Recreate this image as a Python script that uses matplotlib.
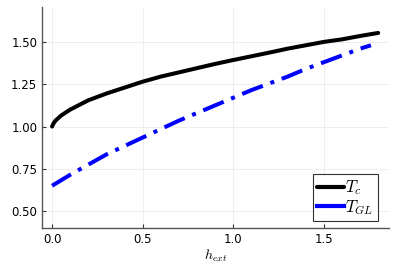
import numpy as np
import matplotlib
matplotlib.use("Agg")
import matplotlib.pyplot as plt

plt.rcParams['mathtext.fontset'] = 'cm'

# values
h_tc = [0.0, 0.01, 0.02, 0.05, 0.1, 0.2, 0.3, 0.4, 0.5, 0.6, 0.7, 0.8, 0.9,
        1.0, 1.1, 1.2, 1.3, 1.4, 1.5, 1.6, 1.7, 1.8]
t_c = [1.00, 1.022, 1.036, 1.065, 1.10, 1.155, 1.195, 1.23, 1.265, 1.295, 1.32, 1.345, 1.37,
       1.393, 1.415, 1.437, 1.46, 1.48, 1.50, 1.515, 1.535, 1.553]

h_gl = [0.0, 0.1, 0.2, 0.3, 0.4, 0.5, 0.6, 0.7, 0.8, 0.9,
        1.0, 1.1, 1.2, 1.3, 1.4, 1.5, 1.6, 1.7, 1.76]
t_gl = [0.65, 0.715, 0.775, 0.835, 0.885, 0.935, 0.985, 1.035, 1.08, 1.125,
        1.17, 1.215, 1.255, 1.295, 1.34, 1.38, 1.42, 1.46, 1.48]

xticks = [0.0, 0.5, 1.0, 1.5]
yticks = [0.50, 0.75, 1.00, 1.25, 1.50]

fig = plt.figure(figsize=(3.97, 2.64), dpi=100)
ax = fig.add_axes([0.106, 0.136, 0.874, 0.838])

ax.plot(h_tc, t_c, color='black', lw=2.9, solid_capstyle='round', label=r'$T_c$')
ax.plot(h_gl, t_gl, color='blue', lw=2.9, linestyle=(0, (5.5, 2, 1, 2)),
        label=r'$T_{GL}$')

ax.set_xlim(-0.055, 1.86)
ax.set_ylim(0.40, 1.707)
ax.set_xticks(xticks, ['%.1f' % v for v in xticks])
ax.set_yticks(yticks, ['%.2f' % v for v in yticks])
ax.tick_params(direction='in', length=3, width=0.8, labelsize=8.5, color='#333333')
ax.grid(True, color='#EBEBEB', lw=0.6)
ax.set_axisbelow(True)
for s in ('top', 'right'):
    ax.spines[s].set_visible(False)
for s in ('left', 'bottom'):
    ax.spines[s].set_color('#555555')
    ax.spines[s].set_linewidth(1.0)

ax.set_xlabel(r'$h_{ext}$', fontsize=10, labelpad=1)

leg = ax.legend(loc='lower right', bbox_to_anchor=(0.968, 0.032), borderaxespad=0,
                fontsize=12, fancybox=False, framealpha=1, handlelength=1.6,
                handletextpad=0.1, borderpad=0.25, labelspacing=0.05)
leg.get_frame().set_edgecolor('#333333')
leg.get_frame().set_linewidth(0.8)
for line in leg.get_lines():
    line.set_linestyle('-')
    line.set_linewidth(3)

fig.savefig('out.png', dpi=100)
